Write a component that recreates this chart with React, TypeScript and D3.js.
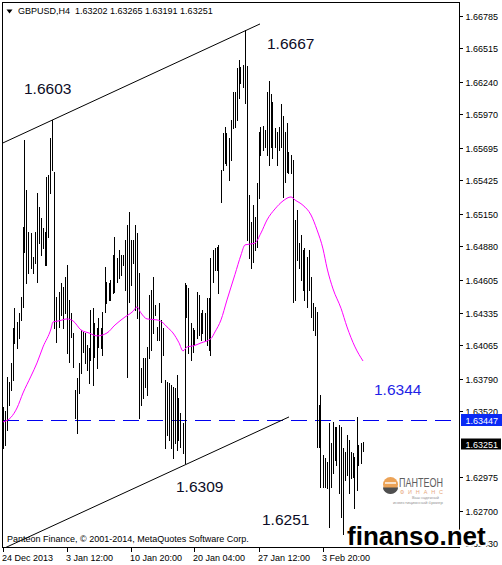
import React from "react";
import * as d3 from "d3";

const W = 502;
const H = 565;
const FONT = "'Liberation Sans', Arial, sans-serif";

const symbolTitle = "GBPUSD,H4";
const lastOhlc = ["1.63202", "1.63265", "1.63191", "1.63251"];

const highs = [
  1.63556, 1.63523, 1.63803, 1.63762, 1.63919, 1.64208, 1.64373, 1.64257, 1.64331, 1.64464,
  1.65041, 1.65759, 1.65347, 1.65000, 1.64992, 1.64794, 1.65000, 1.65322, 1.65206, 1.65116,
  1.65033, 1.65000, 1.65454, 1.65471, 1.65776, 1.65925, 1.65495, 1.64464, 1.64505, 1.64579,
  1.64546, 1.64629, 1.64728, 1.64439, 1.64331, 1.64166, 1.63696, 1.63795, 1.63919, 1.64191,
  1.64175, 1.64166, 1.64067, 1.64043, 1.64356, 1.64373, 1.64249, 1.64208, 1.64290, 1.64208,
  1.64340, 1.64711, 1.64587, 1.64579, 1.64604, 1.64810, 1.64959, 1.64785, 1.64851, 1.64810,
  1.64810, 1.64934, 1.65058, 1.65165, 1.64934, 1.64934, 1.65058, 1.64992, 1.64662, 1.63878,
  1.63960, 1.63960, 1.64051, 1.64480, 1.64521, 1.64629, 1.64398, 1.64216, 1.64414, 1.64274,
  1.64208, 1.63778, 1.63762, 1.63754, 1.63737, 1.63721, 1.63712, 1.63820, 1.63630, 1.63506,
  1.63424, 1.64579, 1.64563, 1.64538, 1.64249, 1.64208, 1.64191, 1.64505, 1.64480, 1.64331,
  1.64356, 1.64331, 1.64455, 1.64455, 1.64785, 1.64851, 1.64868, 1.64876, 1.64893, 1.65512,
  1.65817, 1.65867, 1.65817, 1.65776, 1.65925, 1.66156, 1.66156, 1.66354, 1.66420, 1.66362,
  1.66378, 1.66670, 1.66370, 1.65305, 1.65083, 1.65223, 1.65124, 1.65405, 1.65825, 1.65867,
  1.65875, 1.65842, 1.66156, 1.66246, 1.66139, 1.66073, 1.65858, 1.65825, 1.65867, 1.66057,
  1.65958, 1.65825, 1.65900, 1.65660, 1.65636, 1.65594, 1.65099, 1.65182, 1.64909, 1.64975,
  1.64851, 1.64868, 1.64794, 1.64851, 1.64629, 1.64414, 1.64381, 1.64340, 1.63572, 1.63655,
  1.63159, 1.63135, 1.63102, 1.63424, 1.63258, 1.63432, 1.63391, 1.63391, 1.63407, 1.63391,
  1.63217, 1.63184, 1.63325, 1.63283, 1.63184, 1.63176, 1.63143, 1.63473, 1.63242, 1.63258, 1.63265,
];

const lows = [
  1.63217, 1.63242, 1.63366, 1.63572, 1.63696, 1.63778, 1.64084, 1.64043, 1.64125, 1.64274,
  1.64381, 1.64835, 1.64579, 1.64662, 1.64703, 1.64662, 1.64744, 1.64587, 1.64909, 1.64810,
  1.64868, 1.64728, 1.64728, 1.64959, 1.65322, 1.65512, 1.64208, 1.64092, 1.64216, 1.64315,
  1.64208, 1.64331, 1.64001, 1.63927, 1.64133, 1.63886, 1.63465, 1.63341, 1.63671, 1.63836,
  1.64010, 1.63919, 1.63861, 1.63754, 1.63944, 1.63737, 1.63968, 1.63878, 1.64051, 1.64043,
  1.63985, 1.64340, 1.64414, 1.64439, 1.64439, 1.64497, 1.64505, 1.64587, 1.64620, 1.64645,
  1.64728, 1.64521, 1.63803, 1.64422, 1.64563, 1.64744, 1.64356, 1.64290, 1.63465, 1.63572,
  1.63630, 1.63721, 1.63655, 1.63960, 1.64026, 1.64166, 1.64315, 1.64109, 1.64109, 1.63762,
  1.63985, 1.63217, 1.63325, 1.63283, 1.63217, 1.63135, 1.63258, 1.63201, 1.63283, 1.63225,
  1.63176, 1.63090, 1.64298, 1.64001, 1.63944, 1.64010, 1.64067, 1.64125, 1.64150, 1.64109,
  1.64166, 1.64109, 1.64067, 1.64026, 1.63985, 1.64587, 1.64686, 1.64686, 1.64497, 1.65248,
  1.65512, 1.65570, 1.65553, 1.65429, 1.65594, 1.65858, 1.65867, 1.65925, 1.66106, 1.66230,
  1.66197, 1.66065, 1.64934, 1.64785, 1.64703, 1.64752, 1.64851, 1.64876, 1.65281, 1.65636,
  1.65677, 1.65702, 1.65636, 1.65553, 1.65702, 1.65611, 1.65702, 1.65553, 1.65677, 1.65702,
  1.65289, 1.65413, 1.65495, 1.65487, 1.65487, 1.64422, 1.64439, 1.64769, 1.64703, 1.64604,
  1.64521, 1.64439, 1.64381, 1.64521, 1.64298, 1.64191, 1.64150, 1.63225, 1.63225, 1.62895,
  1.62895, 1.62895, 1.62887, 1.62565, 1.62895, 1.63011, 1.63118, 1.63077, 1.62846, 1.62648,
  1.62510, 1.62953, 1.62994, 1.62846, 1.62969, 1.62978, 1.62722, 1.62871, 1.63077, 1.63093, 1.63191,
];

const maIndex = [
  0, 4, 7, 10, 14, 17, 20, 24, 25, 28,
  32, 35, 39, 43, 47, 52, 56, 61, 65, 67,
  69, 72, 77, 80, 82, 85, 88, 90, 92, 95,
  99, 104, 106, 109, 112, 116, 119, 121, 124, 126,
  129, 132, 136, 140, 144, 146, 150, 154, 157, 160,
  162, 165, 169, 172, 176, 180,
];
const maValues = [
  1.63432, 1.6347, 1.63547, 1.63671, 1.6381, 1.63919, 1.64051, 1.642, 1.64257, 1.64266,
  1.64282, 1.64266, 1.64191, 1.64166, 1.64142, 1.64166, 1.64232, 1.64298, 1.64345, 1.64381,
  1.64331, 1.64282, 1.64274, 1.6425, 1.64216, 1.64166, 1.64085, 1.64018, 1.64051, 1.64059,
  1.64084, 1.6412, 1.64175, 1.64274, 1.64439, 1.6465, 1.6481, 1.64893, 1.64901, 1.64909,
  1.64992, 1.65099, 1.6519, 1.65256, 1.65289, 1.65264, 1.6522, 1.6514, 1.65017, 1.6486,
  1.64703, 1.6453, 1.6437, 1.64216, 1.64051, 1.63935,
];

const yTickValues = [
  1.66785, 1.66515, 1.6624, 1.6597, 1.65695, 1.65425, 1.6515, 1.6488,
  1.64605, 1.64335, 1.64065, 1.6379, 1.6352, 1.62975, 1.627, 1.6243,
];
const xTickIndex = [0, 32, 64, 96, 128, 160];
const xTickLabels = ["24 Dec 2013", "3 Jan 12:00", "10 Jan 20:00", "20 Jan 04:00", "27 Jan 12:00", "3 Feb 20:00"];

const upperTrend: [number, number][] = [[0, 1.65735], [128.5, 1.66717]];
const lowerTrend: [number, number][] = [[0, 1.62385], [143, 1.63473]];
const levelPrice = 1.63447;
const lastPrice = 1.63251;

const noteLabels = ["1.6603", "1.6667", "1.6309", "1.6251", "1.6344"];
const noteIndex = [10.5, 132, 86.5, 129.5, 185.5];
const notePrice = [1.66139, 1.66511, 1.62854, 1.62582, 1.63655];
const noteColors = ["#0c0c26", "#0c0c26", "#0c0c26", "#0c0c26", "#1f1fe6"];

export default function App() {
  const x = d3.scaleLinear().domain([0, 228]).range([3, 459]);
  const y = d3.scaleLinear().domain([1.6243, 1.66785]).range([543.3, 15.7]);

  const maLine = d3
    .line<number>()
    .x((k) => x(maIndex[k]))
    .y((k) => y(maValues[k]))
    .curve(d3.curveMonotoneX);
  const maPath = maLine(d3.range(maIndex.length)) || "";

  const trendLine = d3
    .line<[number, number]>()
    .x((d) => x(d[0]))
    .y((d) => y(d[1]));

  const levelY = Math.round(y(levelPrice)) + 0.5;
  const lastY = Math.round(y(lastPrice)) + 0.5;

  return (
    <svg
      width={W}
      height={H}
      viewBox={`0 0 ${W} ${H}`}
      style={{ position: "absolute", left: 0, top: 0, background: "#fff" }}
      fontFamily={FONT}
    >
      <defs>
        <clipPath id="plotClip">
          <rect x={3} y={3} width={456} height={544} />
        </clipPath>
      </defs>
      <rect x={0} y={0} width={W} height={H} fill="#fff" />

      {/* frame */}
      <rect x={2.5} y={2.5} width={457} height={545} fill="none" stroke="#000" strokeWidth={1} shapeRendering="crispEdges" />

      {/* header */}
      <path d="M6.5,9.5 L12.5,9.5 L9.5,13.5 Z" fill="#000" />
      <text x={18} y={13.5} fontSize={9} fill="#000">
        {symbolTitle + "\u00a0\u00a0" + lastOhlc.join(" ")}
      </text>

      <g clipPath="url(#plotClip)">
        {/* level dashed line */}
        <line x1={3} x2={459} y1={levelY} y2={levelY} stroke="#0000f0" strokeWidth={1} strokeDasharray="16 8" shapeRendering="crispEdges" />

        {/* bars */}
        {highs.map((h, i) => {
          const xx = Math.floor(x(i));
          const y0 = Math.round(y(h));
          const y1 = Math.round(y(lows[i]));
          return <rect key={i} x={xx} y={y0} width={1} height={Math.max(1, y1 - y0 + 1)} fill="#000" shapeRendering="crispEdges" />;
        })}

        {/* moving average */}
        <path d={maPath} fill="none" stroke="#ff00ff" strokeWidth={1} />

        {/* trend lines */}
        <path d={trendLine(upperTrend) || ""} fill="none" stroke="#000" strokeWidth={1} />
        <path d={trendLine(lowerTrend) || ""} fill="none" stroke="#000" strokeWidth={1} />
      </g>

      {/* annotations */}
      {noteLabels.map((t, k) => (
        <text key={t} x={x(noteIndex[k])} y={y(notePrice[k])} fontSize={15.5} fill={noteColors[k]}>
          {t}
        </text>
      ))}

      {/* copyright */}
      <text x={7} y={542} fontSize={9} fill="#000">
        Panteon Finance, © 2001-2014, MetaQuotes Software Corp.
      </text>

      {/* y axis */}
      {yTickValues.map((v) => {
        const ty = Math.round(y(v)) + 0.5;
        return (
          <g key={v}>
            <line x1={460} x2={463} y1={ty} y2={ty} stroke="#000" shapeRendering="crispEdges" />
            <text x={465.5} y={ty + 3.2} fontSize={9} fill="#000">
              {v.toFixed(5)}
            </text>
          </g>
        );
      })}

      {/* level price box */}
      <rect x={461} y={levelY - 6.5} width={41} height={12} fill="#0a2af5" />
      <text x={465.5} y={levelY + 3.2} fontSize={9} fill="#fff">
        {levelPrice.toFixed(5)}
      </text>

      {/* last price box */}
      <rect x={461} y={lastY - 6} width={40} height={11} fill="#000" />
      <text x={465.5} y={lastY + 3.2} fontSize={9} fill="#fff">
        {lastPrice.toFixed(5)}
      </text>

      {/* x axis */}
      {xTickIndex.map((idx, k) => {
        const tx = Math.floor(x(idx)) + 0.5;
        return (
          <g key={idx}>
            <line x1={tx} x2={tx} y1={548} y2={552} stroke="#000" shapeRendering="crispEdges" />
            <text x={tx - 1.5} y={560.5} fontSize={9} fill="#000">
              {xTickLabels[k]}
            </text>
          </g>
        );
      })}

      {/* Panteon logo watermark */}
      <g opacity={0.9}>
        <circle cx={390.5} cy={484.5} r={7.5} fill="#eb9a45" />
        <path d="M383,486 A7.5,7.5 0 0 0 398,486 L398,488 L383,488 Z" fill="#4a4a4a" />
        <path d="M383,487.5 A7.5,6.5 0 0 0 398,487.5 Z" fill="#3c3c3c" />
        <rect x={385} y={482} width={11} height={2} fill="#ffffff" opacity={0.7} />
        <text x={399} y={487} fontSize={12} fill="#4d4d4d" textLength={44} lengthAdjust="spacingAndGlyphs">
          ПАНТЕОН
        </text>
        <text x={400} y={493.5} fontSize={5.5} fill="#e6a070" textLength={43} lengthAdjust="spacing">
          ФИНАНС
        </text>
        <text x={412} y={499} fontSize={3.8} fill="#8a8a8a" textLength={27} lengthAdjust="spacingAndGlyphs">
          Ваш надежный
        </text>
        <text x={393} y={504} fontSize={3.8} fill="#8a8a8a" textLength={50} lengthAdjust="spacingAndGlyphs">
          инвестиционный брокер
        </text>
      </g>

      {/* site watermark */}
      <text
        x={347}
        y={545}
        fontSize={26}
        fontWeight="bold"
        fill="#000"
        stroke="#fff"
        strokeWidth={4}
        strokeLinejoin="round"
        style={{ paintOrder: "stroke" }}
      >
        finanso.net
      </text>
    </svg>
  );
}
